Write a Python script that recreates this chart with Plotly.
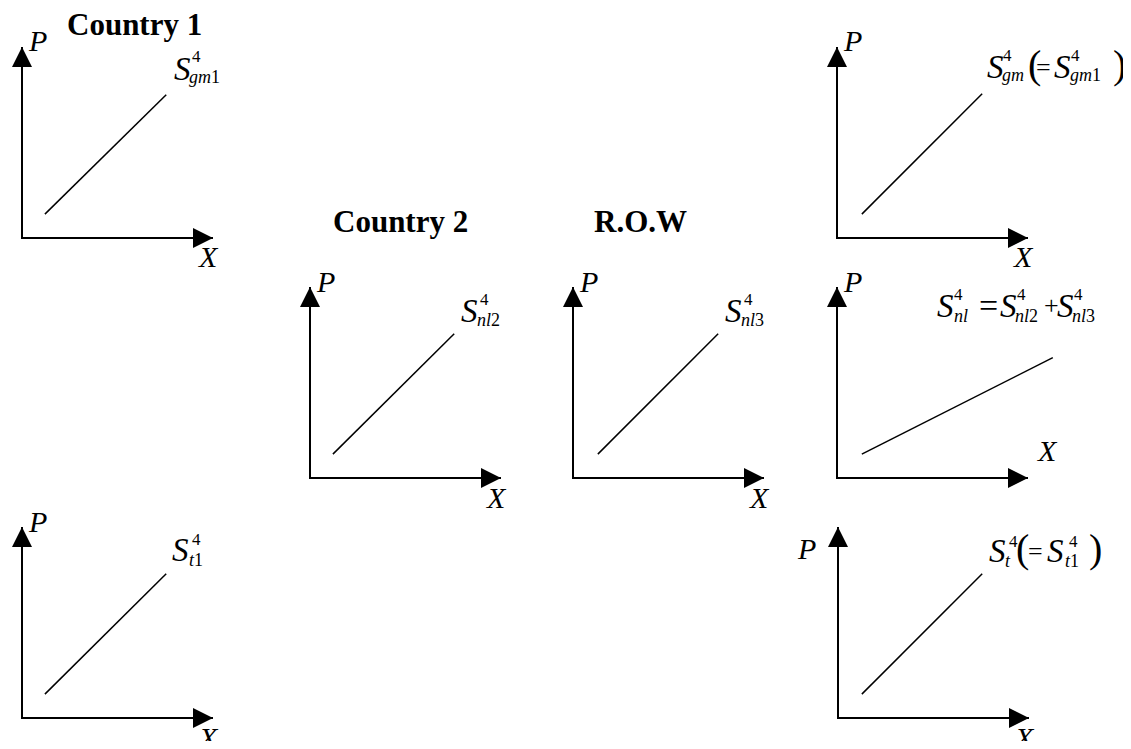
import plotly.graph_objects as go

W, H = 1131, 749
PAGE_MARGIN = 8  # default body margin of the written page
FIG_W, FIG_H = W - 2 * PAGE_MARGIN, H - 2 * PAGE_MARGIN
UNIT = 191  # pixels per panel unit (axis arrow length)
X_RANGE = [-0.05, 1.2]
Y_RANGE = [-0.05, 1.1]
SERIF = "Liberation Serif, Times New Roman, serif"

# panels: top-left, top-right, country 2, R.O.W, middle-right, bottom-left, bottom-right
panel_keys = ["gm1", "gm", "nl2", "nl3", "nl", "t1", "t"]
panel_origin_px = [(22, 238), (837, 238), (310, 478), (573, 478), (837, 478), (22, 718), (838, 718)]

# supply curves in panel units (origin 0, axis tip 1)
supply_x = [[0.12, 0.755], [0.13, 0.76], [0.12, 0.755], [0.13, 0.76], [0.13, 1.13], [0.12, 0.755], [0.125, 0.755]]
supply_y = [[0.125, 0.75], [0.125, 0.755], [0.125, 0.755], [0.125, 0.755], [0.125, 0.63], [0.125, 0.755], [0.125, 0.755]]

# titles: text and centre in page pixels
title_text = ["Country 1", "Country 2", "R.O.W"]
title_pos_px = [(134, 25), (400, 221), (640, 221)]

# curve labels: anchor (u, v) of the first S, then pieces (text, dx px, dy px, size)
label_u = [0.785, 0.775, 0.78, 0.785, 0.513, 0.775, 0.78]
label_v = [0.887, 0.893, 0.872, 0.872, 0.903, 0.88, 0.874]
label_parts = [
    [("<i>S</i>", 0, 0, 33), ("4", 18, -12, 17), ("<i>gm</i>1", 15, 8, 18)],
    [("<i>S</i>", 0, 0, 33), ("4", 16, -12, 17), ("<i>gm</i>", 15, 8, 18),
     ("(", 41, -3, 40), ("=", 49, 0, 26), ("<i>S</i>", 67, 0, 33), ("4", 84, -12, 17),
     ("<i>gm</i>1", 83, 8, 18), (")", 126, -3, 40)],
    [("<i>S</i>", 0, 0, 33), ("4", 19, -12, 17), ("<i>nl</i>2", 16, 9, 18)],
    [("<i>S</i>", 0, 0, 33), ("4", 19, -12, 17), ("<i>nl</i>3", 16, 9, 18)],
    [("<i>S</i>", 0, 0, 33), ("4", 17, -11, 17), ("<i>nl</i>", 17, 10, 18),
     ("=", 42, 0, 34), ("<i>S</i>", 63, 0, 33), ("4", 80, -11, 17), ("<i>nl</i>2", 78, 10, 18),
     ("+", 107, 0, 26), ("<i>S</i>", 120, 0, 33), ("4", 137, -11, 17), ("<i>nl</i>3", 135, 10, 18)],
    [("<i>S</i>", 0, 0, 33), ("4", 20, -10, 17), ("<i>t</i>1", 17, 10, 18)],
    [("<i>S</i>", 0, 0, 33), ("4", 20, -10, 17), ("<i>t</i>", 16, 10, 18),
     ("(", 27, -3, 40), ("=", 39, 0, 26), ("<i>S</i>", 58, 0, 33), ("4", 80, -10, 17),
     ("<i>t</i>1", 76, 10, 18), (")", 100, -3, 40)],
]

# axis label placement: (xshift, yshift) for P from top of vertical axis, X from tip of horizontal axis
p_shift = [(4, 6, "left")] * 6 + [(-20, -21, "right")]
x_shift = [(-5, -19)] * 4 + [(19, 28)] + [(-5, -19)] * 2


def refs(i):
    return ("x", "y") if i == 0 else (f"x{i + 1}", f"y{i + 1}")


def paper_x(px):
    return (px - PAGE_MARGIN) / FIG_W


def paper_y(py):
    return 1 - (py - PAGE_MARGIN) / FIG_H


fig = go.Figure()
annotations = []
layout_axes = {}

for i, (ox, oy) in enumerate(panel_origin_px):
    xr, yr = refs(i)
    layout_axes["xaxis" if i == 0 else f"xaxis{i + 1}"] = dict(
        domain=[paper_x(ox + X_RANGE[0] * UNIT), paper_x(ox + X_RANGE[1] * UNIT)],
        range=X_RANGE, visible=False, anchor=yr, fixedrange=True,
    )
    layout_axes["yaxis" if i == 0 else f"yaxis{i + 1}"] = dict(
        domain=[paper_y(oy - Y_RANGE[0] * UNIT), paper_y(oy - Y_RANGE[1] * UNIT)],
        range=Y_RANGE, visible=False, anchor=xr, fixedrange=True,
    )

    # axes (P vertical, X horizontal)
    fig.add_trace(go.Scatter(
        x=[0, 0, 1], y=[1, 0, 0], mode="lines", xaxis=xr, yaxis=yr,
        line=dict(color="black", width=2), hoverinfo="skip", showlegend=False,
    ))
    for tx, ty in ((1, 0), (0, 1)):
        annotations.append(dict(
            x=tx, y=ty, ax=0.5 * tx, ay=0.5 * ty, xref=xr, yref=yr, axref=xr, ayref=yr,
            text="", showarrow=True, arrowhead=2, arrowsize=2, arrowwidth=2,
            arrowcolor="black", standoff=0,
        ))

    # supply curve
    fig.add_trace(go.Scatter(
        x=supply_x[i], y=supply_y[i], mode="lines", xaxis=xr, yaxis=yr,
        line=dict(color="black", width=1.5), hoverinfo="skip", showlegend=False,
        name=panel_keys[i],
    ))

    # P and X labels
    px_, py_, pa = p_shift[i]
    annotations.append(dict(
        x=0, y=1, xref=xr, yref=yr, text="<i>P</i>", showarrow=False,
        xanchor=pa, yanchor="middle", xshift=px_, yshift=py_,
        font=dict(family=SERIF, size=30, color="black"),
    ))
    xs, ys = x_shift[i]
    annotations.append(dict(
        x=1, y=0, xref=xr, yref=yr, text="<i>X</i>", showarrow=False,
        xanchor="center", yanchor="middle", xshift=xs, yshift=ys,
        font=dict(family=SERIF, size=30, color="black"),
    ))

    # curve label
    for text, dx, dy, size in label_parts[i]:
        annotations.append(dict(
            x=label_u[i], y=label_v[i], xref=xr, yref=yr, text=text, showarrow=False,
            xanchor="left", yanchor="middle", xshift=dx, yshift=-dy,
            font=dict(family=SERIF, size=size, color="black"),
        ))

for text, (tx, ty) in zip(title_text, title_pos_px):
    annotations.append(dict(
        x=paper_x(tx), y=paper_y(ty), xref="paper", yref="paper", text=f"<b>{text}</b>",
        showarrow=False, xanchor="center", yanchor="middle",
        font=dict(family=SERIF, size=31, color="black"),
    ))

fig.update_layout(
    width=FIG_W, height=FIG_H, margin=dict(l=0, r=0, t=0, b=0),
    paper_bgcolor="white", plot_bgcolor="white",
    annotations=annotations, showlegend=False,
    **layout_axes,
)

fig.write_html("out.html")
